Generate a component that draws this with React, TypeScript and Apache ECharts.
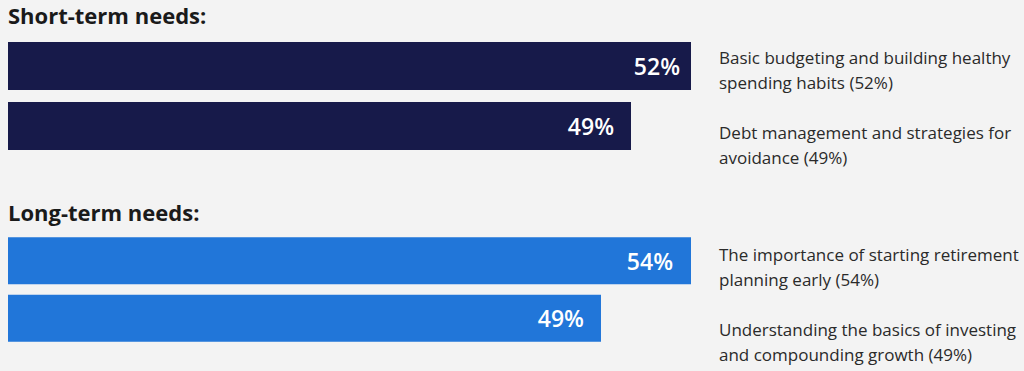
import React, { useEffect, useRef } from 'react';
import * as echarts from 'echarts';

const groupTitles = ['Short-term needs:', 'Long-term needs:'];

const shortTermLabels = [
  'Basic budgeting and building healthy\nspending habits',
  'Debt management and strategies for\navoidance',
];
const shortTermValues = [52, 49];

const longTermLabels = [
  'The importance of starting retirement\nplanning early',
  'Understanding the basics of investing\nand compounding growth',
];
const longTermValues = [54, 49];

const FONT = '"Open Sans", Lato, sans-serif';
const NAVY = '#171a4a';
const BLUE = '#2176d9';

export default function App() {
  const ref = useRef<HTMLDivElement>(null);

  useEffect(() => {
    if (!ref.current) return;
    const chart = echarts.init(ref.current, undefined, { renderer: 'svg' });

    const labelStyle = () => ({
      show: true,
      position: 'insideRight',
      distance: 17,
      formatter: '{c}%',
      color: '#ffffff',
      fontSize: 23,
      fontWeight: 600,
      fontFamily: FONT,
    });

    const mkData = (vals: number[], firstDist: number) =>
      vals.map((v, i) => (i === 0 ? { value: v, label: { distance: firstDist } } : v));

    const descTops = [45, 120, 242, 317];
    const allDesc = [
      ...shortTermLabels.map((l, i) => `${l} (${shortTermValues[i]}%)`),
      ...longTermLabels.map((l, i) => `${l} (${longTermValues[i]}%)`),
    ];
    const descTexts = allDesc.map((t, i) => ({
      type: 'text',
      left: 719,
      top: descTops[i],
      style: {
        text: t,
        fontSize: 17,
        lineHeight: 25,
        fill: '#2a2a2a',
        fontFamily: FONT,
      },
    }));

    chart.setOption({
      animation: false,
      backgroundColor: '#f3f3f3',
      grid: [
        { left: 8, top: 36, width: 683, height: 120 },
        { left: 8, top: 232, width: 683, height: 115 },
      ],
      xAxis: [
        { gridIndex: 0, type: 'value', min: 17.85, max: 52, show: false },
        { gridIndex: 1, type: 'value', min: 16.06, max: 54, show: false },
      ],
      yAxis: [
        { gridIndex: 0, type: 'category', data: shortTermLabels, inverse: true, show: false },
        { gridIndex: 1, type: 'category', data: longTermLabels, inverse: true, show: false },
      ],
      series: [
        {
          type: 'bar',
          xAxisIndex: 0,
          yAxisIndex: 0,
          data: mkData(shortTermValues, 11),
          barWidth: 48,
          clip: true,
          itemStyle: { color: NAVY },
          label: labelStyle(),
        },
        {
          type: 'bar',
          xAxisIndex: 1,
          yAxisIndex: 1,
          data: mkData(longTermValues, 18),
          barWidth: 47,
          clip: true,
          itemStyle: { color: BLUE },
          label: labelStyle(),
        },
      ],
      graphic: [
        {
          type: 'text',
          left: 8,
          top: 4,
          style: { text: groupTitles[0], fontSize: 22, fontWeight: 700, fill: '#1a1a1a', fontFamily: FONT },
        },
        {
          type: 'text',
          left: 8,
          top: 201,
          style: { text: groupTitles[1], fontSize: 22, fontWeight: 700, fill: '#1a1a1a', fontFamily: FONT },
        },
        ...descTexts,
      ],
    });

    return () => chart.dispose();
  }, []);

  return (
    <div
      ref={ref}
      style={{ position: 'fixed', left: 0, top: 0, width: 1024, height: 371, background: '#f3f3f3' }}
    />
  );
}
